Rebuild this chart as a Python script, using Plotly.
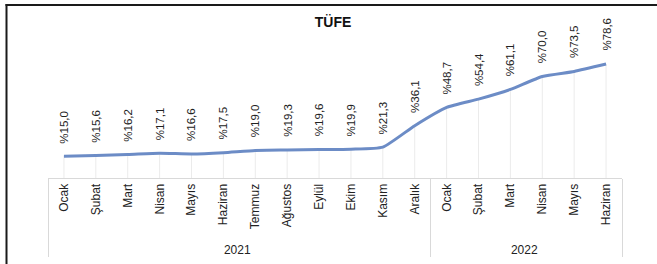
import plotly.graph_objects as go

years = ["2021"] * 12 + ["2022"] * 6
months = ["Ocak", "Şubat", "Mart", "Nisan", "Mayıs", "Haziran", "Temmuz", "Ağustos",
          "Eylül", "Ekim", "Kasım", "Aralık", "Ocak", "Şubat", "Mart", "Nisan", "Mayıs", "Haziran"]
tufe = [15.0, 15.6, 16.2, 17.1, 16.6, 17.5, 19.0, 19.3, 19.6, 19.9, 21.3, 36.1,
        48.7, 54.4, 61.1, 70.0, 73.5, 78.6]
labels = ["%" + f"{v:.1f}".replace(".", ",") for v in tufe]

FONT = "Liberation Sans, Arial, sans-serif"

fig = go.Figure()
fig.add_trace(go.Scatter(
    x=[years, months], y=tufe, mode="lines",
    line=dict(color="#6C8CC6", width=3, shape="spline", smoothing=0.5),
    error_y=dict(type="data", symmetric=False, array=[0] * len(tufe), arrayminus=tufe,
                 color="#ebebeb", thickness=1, width=0),
    hoverinfo="skip", showlegend=False,
))

for i, (v, t) in enumerate(zip(tufe, labels)):
    fig.add_annotation(x=i, y=v, text=t, textangle=-90, showarrow=False,
                       xanchor="center", yanchor="bottom", yshift=11,
                       font=dict(family=FONT, size=11.5, color="#222222"))

W, H = 657, 264
L, R, T, B = 48, 35, 33, 86
pw, ph = W - L - R, H - T - B

def px_x(p):
    return (p - L) / pw

def px_y(p):
    return (H - B - p) / ph

fig.add_shape(type="line", xref="paper", yref="paper", x0=px_x(5.5), x1=px_x(670),
              y0=px_y(5), y1=px_y(5), line=dict(color="#1a1a1a", width=2))
fig.add_shape(type="line", xref="paper", yref="paper", x0=px_x(6.5), x1=px_x(6.5),
              y0=px_y(4), y1=px_y(280), line=dict(color="#1a1a1a", width=2))

fig.update_layout(
    width=W, height=H,
    margin=dict(l=L, r=R, t=T, b=B, autoexpand=False),
    paper_bgcolor="white", plot_bgcolor="white",
    font=dict(family=FONT, size=12, color="#222222"),
    title=dict(text="<b>TÜFE</b>", x=px_x(333), xanchor="center", xref="paper",
               y=1 - 22 / H, yanchor="middle", font=dict(size=14, color="#111111")),
    xaxis=dict(type="multicategory", range=[-0.5, len(tufe) - 0.5], tickangle=-90,
               showline=True, linecolor="#d9d9d9",
               linewidth=1, showgrid=False, ticks="", showdividers=True, automargin=False,
               dividercolor="#d9d9d9", dividerwidth=1,
               tickfont=dict(family=FONT, size=12, color="#222222")),
    yaxis=dict(range=[0, 100], visible=False, showgrid=False, zeroline=False, automargin=False),
)

fig.write_html("out.html", config={"displayModeBar": False},
               post_script="document.body.style.margin='0';document.body.style.overflow='hidden';")
